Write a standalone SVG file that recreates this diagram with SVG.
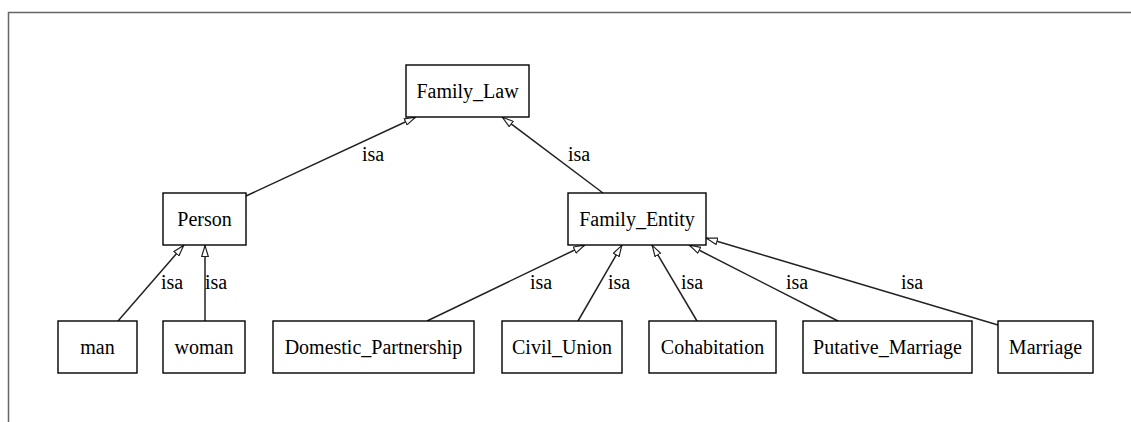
<svg xmlns="http://www.w3.org/2000/svg" width="1131" height="422" viewBox="0 0 1131 422">
<style>
.n rect{fill:#fff;stroke:#000;stroke-width:1.4}
.n text,.lbl{font-family:'Liberation Serif','DejaVu Serif',serif;font-size:20px;fill:#000;text-anchor:middle}
.e line{stroke:#222;stroke-width:1.5;marker-end:url(#ah)}
</style>
<defs>
<marker id="ah" viewBox="0 0 12 8" refX="12" refY="4" markerWidth="12" markerHeight="8" markerUnits="userSpaceOnUse" orient="auto">
<path d="M0.5,0.7 L11.5,4 L0.5,7.3 Z" fill="#fff" stroke="#222" stroke-width="1.2"/>
</marker>
</defs>
<rect width="1131" height="422" fill="#fff"/>
<path d="M8.5,422 V12.5 H1131" fill="none" stroke="#666" stroke-width="1.5"/>
<g id="edges" class="e">
<line x1="246" y1="196" x2="416" y2="117"/>
<line x1="603" y1="193" x2="502" y2="117"/>
<line x1="118" y1="321" x2="184" y2="245"/>
<line x1="205" y1="321" x2="205" y2="245"/>
<line x1="427" y1="321" x2="585" y2="245"/>
<line x1="578" y1="321" x2="622" y2="245"/>
<line x1="697" y1="321" x2="652" y2="245"/>
<line x1="838" y1="321" x2="689" y2="245"/>
<line x1="998" y1="325" x2="706" y2="238"/>
</g>
<g id="labels" font-family="Liberation Serif, serif">
<text class="lbl" x="373" y="161">isa</text>
<text class="lbl" x="579" y="161">isa</text>
<text class="lbl" x="172" y="289">isa</text>
<text class="lbl" x="216" y="289">isa</text>
<text class="lbl" x="541" y="289">isa</text>
<text class="lbl" x="619" y="289">isa</text>
<text class="lbl" x="692" y="289">isa</text>
<text class="lbl" x="797" y="289">isa</text>
<text class="lbl" x="912" y="289">isa</text>
</g>
<g id="Family_Law" class="n"><rect x="406" y="65" width="123" height="52"/><text x="467.5" y="98">Family_Law</text></g>
<g id="Person" class="n"><rect x="163" y="193" width="83" height="52"/><text x="204.5" y="226">Person</text></g>
<g id="Family_Entity" class="n"><rect x="568" y="193" width="138" height="52"/><text x="637" y="226">Family_Entity</text></g>
<g id="man" class="n"><rect x="58" y="321" width="79" height="52"/><text x="97.5" y="354">man</text></g>
<g id="woman" class="n"><rect x="163" y="321" width="82" height="52"/><text x="204" y="354">woman</text></g>
<g id="Domestic_Partnership" class="n"><rect x="273" y="321" width="201" height="52"/><text x="373.5" y="354">Domestic_Partnership</text></g>
<g id="Civil_Union" class="n"><rect x="502" y="321" width="120" height="52"/><text x="562" y="354">Civil_Union</text></g>
<g id="Cohabitation" class="n"><rect x="649" y="321" width="127" height="52"/><text x="712.5" y="354">Cohabitation</text></g>
<g id="Putative_Marriage" class="n"><rect x="803" y="321" width="169" height="52"/><text x="887.5" y="354">Putative_Marriage</text></g>
<g id="Marriage" class="n"><rect x="998" y="321" width="95" height="52"/><text x="1045.5" y="354">Marriage</text></g>
</svg>
